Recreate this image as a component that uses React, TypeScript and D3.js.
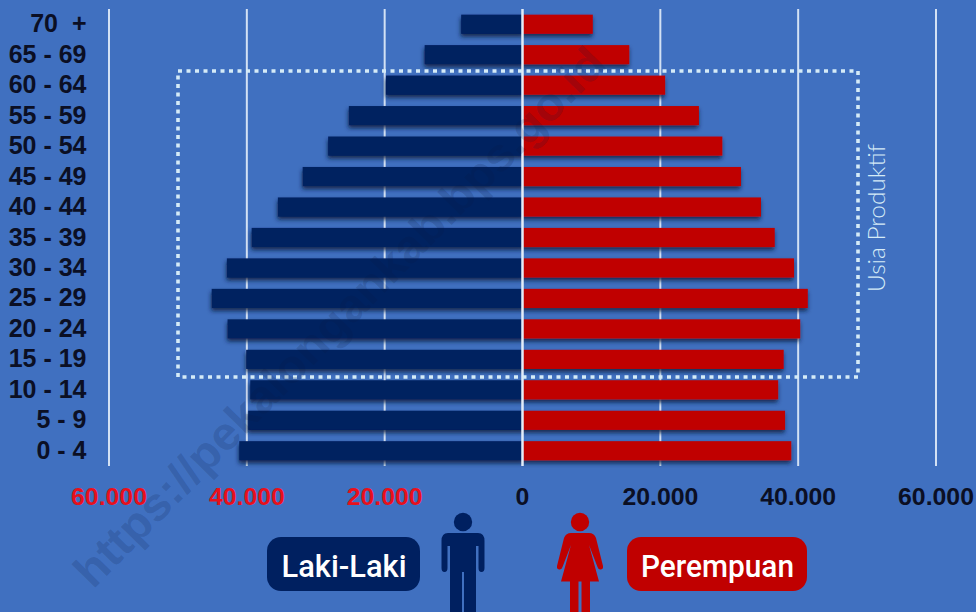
import { scaleBand, scaleLinear } from "d3";

const AGE_GROUPS = ["70  +", "65 - 69", "60 - 64", "55 - 59", "50 - 54", "45 - 49", "40 - 44", "35 - 39", "30 - 34", "25 - 29", "20 - 24", "15 - 19", "10 - 14", "5 - 9", "0 - 4"];
const MALE = [8900, 14200, 19800, 25200, 28200, 31900, 35500, 39300, 42900, 45100, 42800, 40100, 39500, 39800, 41100];
const FEMALE = [10200, 15500, 20700, 25600, 29000, 31700, 34600, 36600, 39400, 41400, 40300, 37900, 37100, 38100, 39000];
const TICKS = [-60000, -40000, -20000, 0, 20000, 40000, 60000];

const W = 976, H = 612;
const BG = "#4070c0", NAVY = "#002060", RED = "#c00000", LINE = "#d3e1f4", DOT = "#d5ebf7", INK = "#0b0f24";
const FONT = "'Liberation Sans', Arial, sans-serif";

const fmt = (v: number) => Math.abs(v).toLocaleString("de-DE");

function Man({ x }: { x: number }) {
  return (
    <g transform={`translate(${x},0)`} fill={NAVY}>
      <circle cy={522} r={9.2} />
      <path d="M-15 533 H15 Q21.5 533 21.5 541 V568 Q21.5 572 18.5 572 Q15.5 572 15.5 568 V546 H13 V612 H1 V572 H-1 V612 H-13 V546 H-15.5 V568 Q-15.5 572 -18.5 572 Q-21.5 572 -21.5 568 V541 Q-21.5 533 -15 533 Z" />
    </g>
  );
}

function Woman({ x }: { x: number }) {
  return (
    <g transform={`translate(${x},0)`} fill={RED}>
      <circle cy={522} r={9.2} />
      <path d="M-9 533 H9 Q14 533 16 538 L23 566 Q23.5 569 21 569.5 Q18.5 570 17.5 567 L9 545 L19 581.5 H10 V612 H1.5 V581.5 H-1.5 V612 H-10 V581.5 H-19 L-9 545 L-17.5 567 Q-18.5 570 -21 569.5 Q-23.5 569 -23 566 L-16 538 Q-14 533 -9 533 Z" />
    </g>
  );
}

export default function App() {
  const scaleX = scaleLinear().domain([-60000, 60000]).range([109, 936]);
  const scaleY = scaleBand<string>().domain(AGE_GROUPS).range([9, 466]).paddingInner(0.37).paddingOuter(0.185);
  const bh = scaleY.bandwidth();
  const x0 = scaleX(0);

  return (
    <svg width={W} height={H} viewBox={`0 0 ${W} ${H}`} style={{ position: "absolute", left: 0, top: 0, background: BG }}>
      <defs>
        <filter id="barShadow" filterUnits="userSpaceOnUse" x={0} y={0} width={W} height={H}>
          <feDropShadow dx={-0.5} dy={3} stdDeviation={2} floodColor="#0a1a40" floodOpacity={0.85} />
        </filter>
      </defs>

      {TICKS.filter(t => t !== 0).map(t => (
        <line key={t} x1={scaleX(t)} x2={scaleX(t)} y1={9} y2={466} stroke={LINE} strokeWidth={2} />
      ))}

      <g filter="url(#barShadow)">
        {AGE_GROUPS.map((g, i) => (
          <g key={g}>
            <rect x={scaleX(-MALE[i])} y={scaleY(g)} width={x0 - scaleX(-MALE[i])} height={bh} fill={NAVY} />
            <rect x={x0} y={scaleY(g)} width={scaleX(FEMALE[i]) - x0} height={bh} fill={RED} />
          </g>
        ))}
      </g>

      <line x1={x0} x2={x0} y1={9} y2={466} stroke="#e3ecf8" strokeWidth={2.5} />

      <rect x={178} y={71} width={680} height={306} fill="none" stroke={DOT} strokeWidth={3.6} strokeDasharray="4 4.5" />
      <text transform="translate(885,292) rotate(-90)" fontFamily="Lato, sans-serif" fontWeight={300} fontSize={23} textLength={148} lengthAdjust="spacingAndGlyphs" fill={DOT}>Usia Produktif</text>

      {AGE_GROUPS.map(g => (
        <text key={g} x={86.5} y={scaleY(g)! + bh / 2 - 1} dy="0.36em" textAnchor="end" xmlSpace="preserve" fontFamily={FONT} fontWeight={700} fontSize={25} fill={INK}>{g}</text>
      ))}

      {TICKS.map(t => (
        <text key={t} x={scaleX(t)} y={505} textAnchor="middle" fontFamily={FONT} fontWeight={700} fontSize={24.8} fill={t < 0 ? "#e8101c" : INK}>{fmt(t)}</text>
      ))}

      <rect x={267} y={537} width={153} height={54} rx={14} fill={NAVY} />
      <text x={344} y={577} textAnchor="middle" fontFamily="Roboto, sans-serif" fontWeight={500} fontSize={32} textLength={125} lengthAdjust="spacingAndGlyphs" fill="#fff">Laki-Laki</text>
      <Man x={463} />
      <Woman x={580} />
      <rect x={627} y={537} width={180} height={54} rx={14} fill={RED} />
      <text x={717.5} y={577} textAnchor="middle" fontFamily="Roboto, sans-serif" fontWeight={500} fontSize={32} textLength={153} lengthAdjust="spacingAndGlyphs" fill="#fff">Perempuan</text>

      <text transform="translate(93,590) rotate(-45.5)" fontFamily={FONT} fontWeight={700} fontSize={46} textLength={735} lengthAdjust="spacingAndGlyphs" fill="#0a1a40" fillOpacity={0.18}>https://pekalongankab.bps.go.id</text>
    </svg>
  );
}
